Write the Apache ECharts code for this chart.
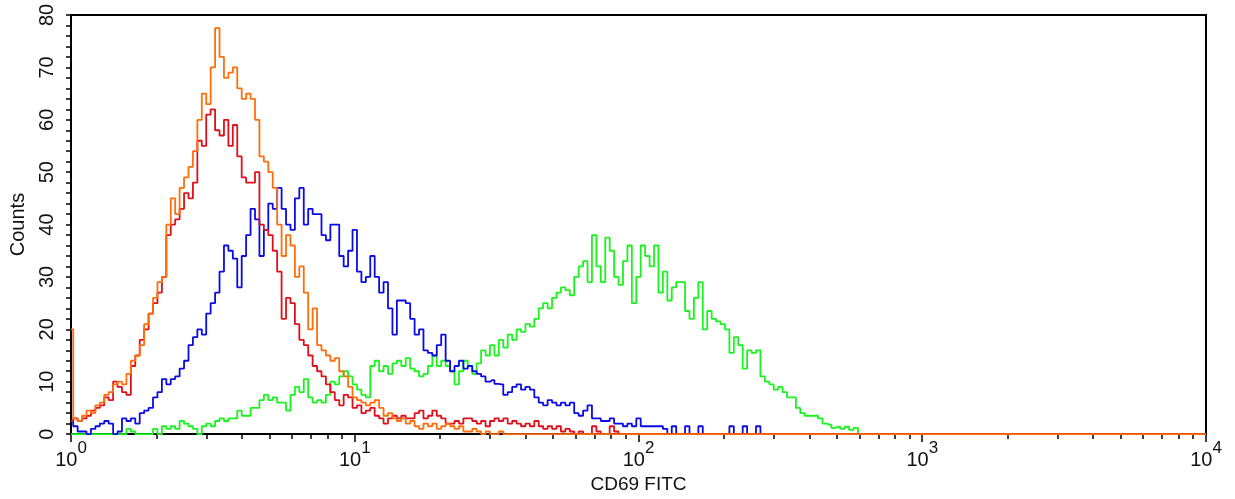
<!DOCTYPE html>
<html><head><meta charset="utf-8">
<script src="https://cdn.jsdelivr.net/npm/echarts@6/dist/echarts.min.js"></script>
<style>html,body{margin:0;padding:0;background:#fff}#c{width:1235px;height:499px}</style>
</head><body><div id="c"></div>
<script>
// Histogram channels: 64 channels per decade over 4 decades (10^0 .. 10^4)
const channelsPerDecade = 64;
const totalChannels = 256;
const xMin = 1, xMax = 10000;
const yMin = 0, yMax = 80, yStep = 10;
const decadeTicks = [1, 10, 100, 1000, 10000];
const xTitle = 'CD69 FITC';
const yTitle = 'Counts';

const orangeCounts = [20,3,2.5,3.5,4.5,4,5.5,6,7.5,8,
 9.5,10,9.5,11.5,14,15,17,21,23,26,
 29,30,40,45,42,47,49,51,54,60,
 65,63,70,77.5,72,68,69,70,66,64,
 65,64,60,53,52,50,47,40,34,38,
 36,30,32,27,20,24,17,16,15,14,
 14.5,12,11,9,7,6.5,6,5.5,6,6.5,
 5,3.5,4,3,2.5,3,2,2.5,1.5,1,
 2,1.5,2,1,1.5,2,1.5,1,1.5,0.5,
 0.5,1,0.5,0,0.5,0,0,0.5,0];

const redCounts = [2.5,3,2.5,3,3.5,4.5,5,5.5,7,6.5,
 10,9,8,7.5,13,15,18,20,23,25,
 27,30,38,40,41,43,46,45,48,56,
 55,61,62,58,57,60,55,59,53,49,
 48,48,50,40,39,38,35,31,22,26,
 25,21,18,17,15,13,12,11,9.5,8,
 6.5,5.5,7.5,7,5,5.5,4,4.5,5,3.5,
 3,2,3,3.5,3,3.5,3,3,4,4.5,
 3,3.5,4.5,3.5,3,2,2,2.5,2,3,
 3,2.5,2,2.5,1.5,2.5,3,2.5,3,2,
 2.5,2,1.5,2,1.5,2.5,1.5,1,1.5,1,
 1.5,0.5,1,0.5,0,0.5,0,0,1.5,0.5,
 0,0,1.5,0.5,0];

const blueCounts = [2.4,1.5,0.5,0.5,0,1,1.5,2,2.5,2,
 0,0.5,3,2.5,3,2,4,4.5,5,7,
 8,10.5,9.5,10.5,11,12.5,14,17,18.5,20,
 19,23,25,27,31,36,35,33.5,28,34,
 38,43,41,34,39,44,43,47,43,40,
 39,45,47,40,43,42,42,38,37,40,
 40,34,32,35,39,31,29,30,34,30,
 27,29,24,19,25.5,25.5,25,22,19,20,
 16,15.5,15,17,19,14,12,13,14,12.5,
 13,12,11.5,11,10,10.3,9.6,9.5,7.5,8,
 9,9.5,8.5,9,8.5,7,6,5.5,6.5,6,
 5.5,6,5.5,6,4,3.5,4.5,5.5,3,3,
 2.5,2.5,3,2,2,1.5,2,1.5,3,1.5,
 1.5,1.5,1.5,1.5,1,0,1.5,0,0,1.5,
 0,0,1.5,0,0,0,0,0,0,1.5,
 0,0,1.5,0,0,1.5,0];

const greenCounts = [0,0,0,0,0,0,0,0,0,0,
 0,0,0,1,0.5,0,0,0,0,1,
 0,1.5,1,1.5,1,2.5,2,1.5,1,0,
 1.5,2,1.5,2.5,3,2.5,3,3,4.5,3.5,
 3.5,5,5,6.5,7.5,6.5,7,6,6,4.5,
 7.5,9,8,10.5,7,6,6.5,6,7.5,10,
 9.5,11,12,11,9.5,8.5,7.5,7,13,14,
 12,13,11.5,13.5,14,13,14.5,12.5,12,11,
 11.5,13,15,13,14,13,12,9.5,12,14,
 13,11.5,13.5,16,15,17,15,18,16.5,19,
 18,20,19.5,21,20.5,22,24,25,24,26,
 27,28,27.5,26.5,30,32,33,29,38,32,
 29,37.5,35,30,28.5,33,36,25,30,36,
 34,32,36,27,31,25.5,28,29,29,23.5,
 22,26,29,20,23.5,22,21.5,21,20,15.5,
 18.5,17,12.5,16,15.5,16,11,10,9.5,8.5,
 9,8,7,7,5,4,3.5,3.5,3.5,3,
 2,1.8,1.2,1.4,1,1.4,0.8,1.2,0];

const seriesDefs = [
  {name: 'green', counts: greenCounts, color: '#19f51c'},
  {name: 'blue', counts: blueCounts, color: '#0a0ae6'},
  {name: 'red', counts: redCounts, color: '#e0101a'},
  {name: 'orange', counts: orangeCounts, color: '#ff6e0a'}
];

function toPoints(counts) {
  const pts = [];
  for (let i = 0; i <= totalChannels; i++) {
    pts.push([Math.pow(10, i / channelsPerDecade), i < counts.length ? counts[i] : 0]);
  }
  return pts;
}

const minorTickValues = [];
for (let d = 0; d < decadeTicks.length - 1; d++) {
  for (let k = 1; k <= 9; k++) minorTickValues.push(k * decadeTicks[d]);
}
minorTickValues.push(decadeTicks[decadeTicks.length - 1]);

const FONT = "'Liberation Sans', Arial, sans-serif";
const TXT = '#111';
const tickStyle = {color: '#000', width: 1.5};

const chart = echarts.init(document.getElementById('c'), null, {renderer: 'canvas'});
chart.setOption({
  animation: false,
  backgroundColor: '#fff',
  grid: {left: 70, right: 29, top: 15, bottom: 61, show: true, borderColor: '#000', borderWidth: 2, backgroundColor: 'transparent'},
  xAxis: [
    {
      type: 'log', logBase: 10, min: xMin, max: xMax, position: 'bottom',
      axisLine: {show: true, onZero: false, lineStyle: {color: '#000', width: 2}},
      axisTick: {show: true, customValues: minorTickValues, length: 5, lineStyle: tickStyle},
      axisLabel: {show: false},
      splitLine: {show: false}
    },
    {
      type: 'log', logBase: 10, min: xMin, max: xMax, position: 'bottom',
      axisLine: {show: false},
      axisTick: {show: true, customValues: decadeTicks, length: 8, lineStyle: tickStyle},
      axisLabel: {
        show: true, customValues: decadeTicks, margin: 6,
        formatter: v => '{b|10}{s|' + Math.round(Math.log10(v)) + '}',
        rich: {
          b: {fontSize: 20, fontFamily: FONT, color: TXT, verticalAlign: 'bottom', lineHeight: 30},
          s: {fontSize: 17, fontFamily: FONT, color: TXT, verticalAlign: 'top', lineHeight: 17}
        }
      },
      splitLine: {show: false},
      name: xTitle, nameLocation: 'middle', nameGap: 38,
      nameTextStyle: {fontSize: 19, fontFamily: FONT, color: TXT}
    }
  ],
  yAxis: {
    type: 'value', min: yMin, max: yMax, interval: yStep,
    axisLine: {show: true, lineStyle: {color: '#000', width: 2}},
    axisTick: {show: true, length: 5, lineStyle: tickStyle},
    minorTick: {show: true, splitNumber: 5, length: 5, lineStyle: tickStyle},
    axisLabel: {rotate: 90, fontSize: 20, fontFamily: FONT, color: TXT, margin: 14},
    splitLine: {show: false},
    name: yTitle, nameLocation: 'middle', nameRotate: 90, nameGap: 43,
    nameTextStyle: {fontSize: 20, fontFamily: FONT, color: TXT}
  },
  series: seriesDefs.map(s => ({
    name: s.name, type: 'line', step: 'middle', symbol: 'none', xAxisIndex: 0,
    data: toPoints(s.counts),
    lineStyle: {color: s.color, width: 1.8},
    itemStyle: {color: s.color}
  }))
});
</script></body></html>
